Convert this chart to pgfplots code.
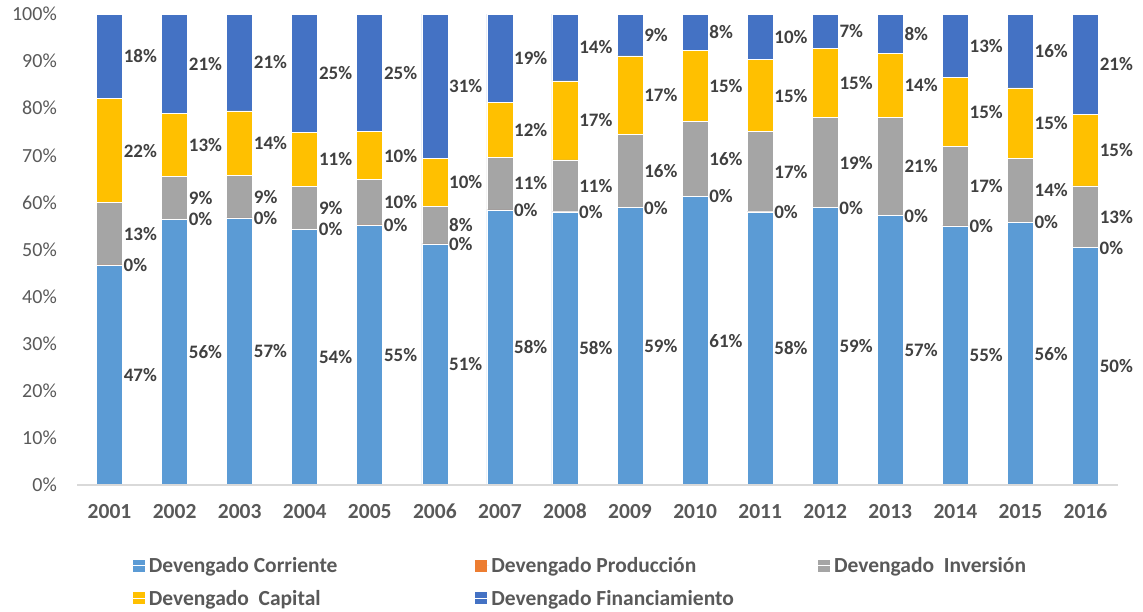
\documentclass[border=0pt]{standalone}
\usepackage{fontspec}
\setmainfont{Carlito}
\usepackage{pgfplots}
\usepackage{pgfplotstable}
\pgfplotsset{compat=1.18}
\definecolor{cC}{HTML}{5B9BD5}
\definecolor{cP}{HTML}{ED7D31}
\definecolor{cI}{HTML}{A5A5A5}
\definecolor{cK}{HTML}{FFC000}
\definecolor{cF}{HTML}{4472C4}
\definecolor{tickgray}{HTML}{595959}
\definecolor{lblgray}{HTML}{404040}
\definecolor{axgray}{HTML}{D9D9D9}

\pgfplotstableread{
x C P I K F
0 46.7 0.01 13.3 22.0 17.98
1 56.4 0.01 9.1 13.4 21.08
2 56.7 0.01 9.0 13.7 20.58
3 54.3 0.01 9.1 11.4 25.18
4 55.2 0.01 9.6 10.2 24.98
5 51.2 0.01 8.0 10.1 30.68
6 58.4 0.01 11.2 11.6 18.78
7 58.0 0.01 11.0 16.8 14.18
8 58.9 0.01 15.6 16.6 8.88
9 61.3 0.01 15.9 15.0 7.78
10 58.0 0.01 17.0 15.3 9.68
11 58.9 0.01 19.1 14.7 7.28
12 57.2 0.01 20.9 13.6 8.28
13 55.0 0.01 16.8 14.8 13.38
14 55.8 0.01 13.6 14.9 15.68
15 50.4 0.01 13.1 15.1 21.38
}\data

\pgfplotsset{
  sq/.style={legend image code/.code={\fill[##1,draw=none] (0pt,-6pt) rectangle (12pt,6pt); \path (0pt,0pt) -- (14pt,0pt);}},
}

\begin{document}
\begin{tikzpicture}
\path[use as bounding box] (0,0) rectangle (1143pt,-612pt);
\begin{axis}[
  at={(77pt,-485pt)}, anchor=south west,
  scale only axis, width=1041pt, height=471pt,
  ybar stacked, bar width=26pt,
  xmin=-0.5, xmax=15.5, ymin=0, ymax=100,
  xtick={0,...,15},
  xticklabels={2001,2002,2003,2004,2005,2006,2007,2008,2009,2010,2011,2012,2013,2014,2015,2016},
  ytick={0,10,...,100},
  yticklabel={\pgfmathprintnumber{\tick}\%},
  /pgf/number format/assume math mode=true,
  axis lines*=left,
  axis on top,
  y axis line style={draw=none},
  x axis line style={draw=axgray, line width=1.2pt},
  tick style={draw=none}, major tick length=0pt,
  y tick label style={font=\fontsize{20}{24}\selectfont, text=tickgray, inner sep=0pt, anchor=east, xshift=-20pt},
  x tick label style={font=\bfseries\fontsize{21.5}{24}\selectfont, text=tickgray, inner sep=0pt, anchor=base, yshift=-33pt},
  point meta=explicit,
  nodes near coords={\pgfmathprintnumber[fixed,precision=0]{\pgfplotspointmeta}\%},
  nodes near coords align={center},
  every node near coord/.append style={font=\bfseries\fontsize{19}{22}\selectfont, text=lblgray, anchor=west, inner sep=0pt, xshift=14pt},
  legend columns=3,
  legend cell align=left,
  legend style={draw=none, fill=none, at={(0.05,-0.145)}, anchor=north west,
    font=\bfseries\fontsize{21.5}{24}\selectfont, text=tickgray, row sep=12pt},
]
\addplot[fill=cC, draw=white, line width=0.6pt, sq] table[x=x,y=C,meta=C]{\data};
\addlegendentry{\makebox[324pt][l]{Devengado Corriente}}
\addplot[fill=cP, draw=none, sq] table[x=x,y=P,meta=P]{\data};
\addlegendentry{\makebox[324pt][l]{Devengado Producción}}
\addplot[fill=cI, draw=white, line width=0.6pt, sq] table[x=x,y=I,meta=I]{\data};
\addlegendentry{\makebox[324pt][l]{Devengado~~Inversión}}
\addplot[fill=cK, draw=white, line width=0.6pt, sq] table[x=x,y=K,meta=K]{\data};
\addlegendentry{\makebox[324pt][l]{Devengado~~Capital}}
\addplot[fill=cF, draw=white, line width=0.6pt, sq] table[x=x,y=F,meta=F]{\data};
\addlegendentry{\makebox[324pt][l]{Devengado Financiamiento}}
\end{axis}
\end{tikzpicture}
\end{document}
